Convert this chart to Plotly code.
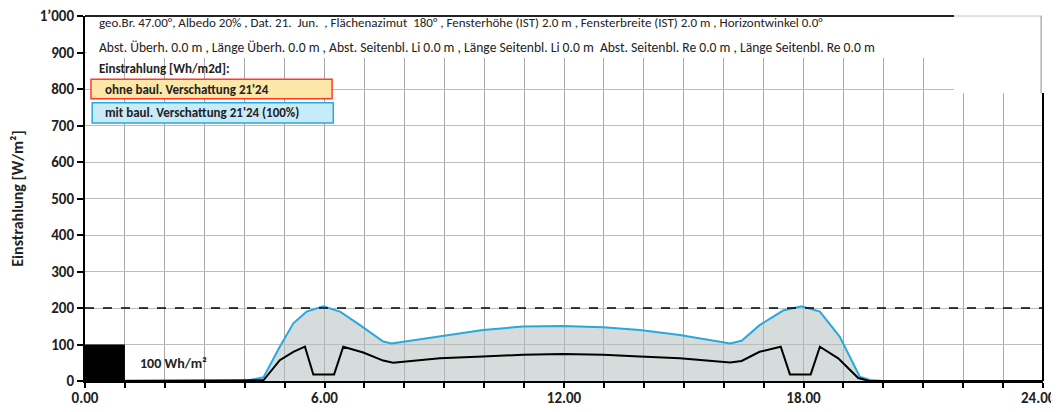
import plotly.graph_objects as go

# hours of the day and irradiance [W/m2]
hours_blue = [0, 4.0, 4.47, 4.88, 5.22, 5.55, 5.97, 6.39, 6.89, 7.47, 7.68, 8.89, 9.97, 10.97,
              11.97, 12.98, 13.9, 14.9, 16.16, 16.45, 16.9, 17.49, 17.95, 18.41, 18.91, 19.41,
              19.66, 20.0, 24]
mit_verschattung = [0, 0, 10, 94, 158, 190, 205, 190, 153, 108, 103, 123, 140, 149,
                    151, 147, 140, 126, 103, 110, 153, 193, 205, 190, 121, 12,
                    3, 0, 0]

hours_black = [0, 4.3, 4.47, 4.88, 5.22, 5.51, 5.72, 6.24, 6.47, 6.97, 7.47, 7.72, 8.89, 9.97,
               10.97, 11.97, 12.98, 13.9, 14.9, 16.16, 16.45, 16.9, 17.43, 17.66, 18.18,
               18.41, 18.87, 19.37, 19.66, 24]
black_line = [0, 0, 2, 57, 80, 94, 18, 18, 94, 78, 56, 50, 62, 67,
              72, 74, 72, 67, 62, 51, 55, 80, 94, 18, 18,
              94, 62, 8, 0, 0]

reference_level = 200
scale_box_value = 100
scale_box_hours = 1

y_ticks = [0, 100, 200, 300, 400, 500, 600, 700, 800, 900, 1000]
y_ticktext = ["0", "100", "200", "300", "400", "500", "600", "700", "800", "900", "1’000"]
x_ticks = list(range(0, 25))
# the last label (24.00) is placed separately so it stays inside the page
x_ticktext = [f"{h}.00" if h % 6 == 0 and h < 24 else "" for h in x_ticks]
x_last_label = "24.00"

info_line1 = ("geo.Br. 47.00°, Albedo 20% , Dat. 21.  Jun.  , Flächenazimut  180° , "
              "Fensterhöhe (IST) 2.0 m , Fensterbreite (IST) 2.0 m , Horizontwinkel 0.0°")
info_line2 = ("Abst. Überh. 0.0 m , Länge Überh. 0.0 m , Abst. Seitenbl. Li 0.0 m , "
              "Länge Seitenbl. Li 0.0 m  Abst. Seitenbl. Re 0.0 m , Länge Seitenbl. Re 0.0 m")
legend_title = "Einstrahlung [Wh/m2d]:"
legend_ohne = "ohne baul. Verschattung 21'24"
legend_mit = "mit baul. Verschattung 21'24 (100%)"

FONT = "Carlito, Lato, sans-serif"
BOX_X = 21.77 / 24  # right end of the text area, paper fraction

fig = go.Figure()

fig.add_trace(go.Scatter(
    x=hours_blue, y=mit_verschattung, mode="lines", fill="tozeroy",
    fillcolor="rgba(180,192,190,0.55)", line=dict(color="#29a8e0", width=2),
    showlegend=False, hoverinfo="skip",
))
fig.add_trace(go.Scatter(
    x=hours_black, y=black_line, mode="lines",
    line=dict(color="black", width=2), showlegend=False, hoverinfo="skip",
))

shapes = [
    # 100 Wh/m2 scale box
    dict(type="rect", xref="x", yref="y", x0=0, x1=scale_box_hours, y0=0, y1=scale_box_value,
         fillcolor="black", line=dict(width=0), layer="above"),
    # dashed reference line
    dict(type="line", xref="paper", yref="y", x0=0, x1=1, y0=reference_level, y1=reference_level,
         line=dict(color="black", width=1.5, dash="dash"), layer="above"),
    # white text area
    dict(type="rect", xref="paper", yref="paper", x0=0.002, x1=BOX_X, y0=0.885, y1=0.997,
         fillcolor="white", line=dict(width=0), layer="above"),
    # top frame line
    dict(type="line", xref="paper", yref="paper", x0=0, x1=BOX_X, y0=1, y1=1,
         line=dict(color="#222", width=2), layer="above"),
    # right frame line
    dict(type="line", xref="paper", yref="paper", x0=1, x1=1, y0=0, y1=0.789,
         line=dict(color="black", width=2), layer="above"),
    # white box top right
    dict(type="rect", xref="paper", yref="paper", x0=BOX_X, x1=1.003, y0=0.789, y1=1.005,
         fillcolor="white", line=dict(width=0), layer="above"),
    dict(type="line", xref="paper", yref="paper", x0=BOX_X, x1=0.999, y0=1, y1=1,
         line=dict(color="#c4c4c4", width=1), layer="above"),
    dict(type="line", xref="paper", yref="paper", x0=0.998, x1=0.998, y0=0.789, y1=1,
         line=dict(color="#8c8c8c", width=1), layer="above"),
    # legend boxes
    dict(type="rect", xref="x", yref="y", x0=0.15, x1=6.19, y0=773, y1=827,
         fillcolor="#fce6a8", line=dict(color="#ff3b30", width=1.5), layer="above"),
    dict(type="rect", xref="x", yref="y", x0=0.18, x1=6.22, y0=707, y1=762,
         fillcolor="#c8ebfa", line=dict(color="#29a8e0", width=1.5), layer="above"),
]

annotations = [
    dict(x=0.3, y=983, text=info_line1, font=dict(size=13, color="#222")),
    dict(x=0.3, y=915, text=info_line2, font=dict(size=13.6, color="#222")),
    dict(x=0.3, y=857, text="<b>" + legend_title + "</b>", font=dict(size=13, color="#222")),
    dict(x=0.45, y=800, text="<b>" + legend_ohne + "</b>", font=dict(size=13, color="#222")),
    dict(x=0.45, y=735, text="<b>" + legend_mit + "</b>", font=dict(size=13, color="#222")),
    dict(x=1.33, y=49, text="<b>100 Wh/m²</b>", font=dict(size=14, color="#222")),
]
for a in annotations:
    a.update(xref="x", yref="y", xanchor="left", yanchor="middle", showarrow=False)
annotations.append(dict(
    x=x_ticks[-1], y=0, xref="x", yref="paper", xanchor="right", yanchor="middle",
    xshift=15, yshift=-17, showarrow=False, text="<b>" + x_last_label + "</b>",
    font=dict(size=15, family=FONT, color="#222"),
))

# the page body adds an 8px margin, so the figure is sized to fit inside it
fig.update_layout(
    width=1051, height=404,
    margin=dict(l=77, r=16, t=8, b=31, autoexpand=False),
    paper_bgcolor="white", plot_bgcolor="white",
    font=dict(family=FONT, color="#222"),
    shapes=shapes, annotations=annotations,
)
fig.update_xaxes(
    range=[0, 24], tickvals=x_ticks, ticktext=x_ticktext,
    showgrid=True, gridcolor="#a8a8a8", gridwidth=1,
    showline=True, linecolor="black", linewidth=2,
    ticks="outside", ticklen=5, tickcolor="black", tickwidth=1.5,
    tickfont=dict(size=15, family=FONT, color="#222", weight="bold"),
    ticklabeloverflow="allow", ticklabelstandoff=-3,
    zeroline=False, automargin=False,
)
fig.update_yaxes(
    range=[0, 1000], tickvals=y_ticks, ticktext=y_ticktext,
    showgrid=True, gridcolor="#bdbdbd", gridwidth=1,
    showline=True, linecolor="black", linewidth=2,
    ticks="outside", ticklen=6, tickcolor="black", tickwidth=1.5,
    tickfont=dict(size=15, family=FONT, color="#222", weight="bold"),
    ticklabeloverflow="allow",
    title=dict(text="<b>Einstrahlung [W/m²]</b>", font=dict(size=16, family=FONT, color="#222"),
               standoff=12),
    zeroline=False, automargin=False,
)

fig.write_html("out.html")
